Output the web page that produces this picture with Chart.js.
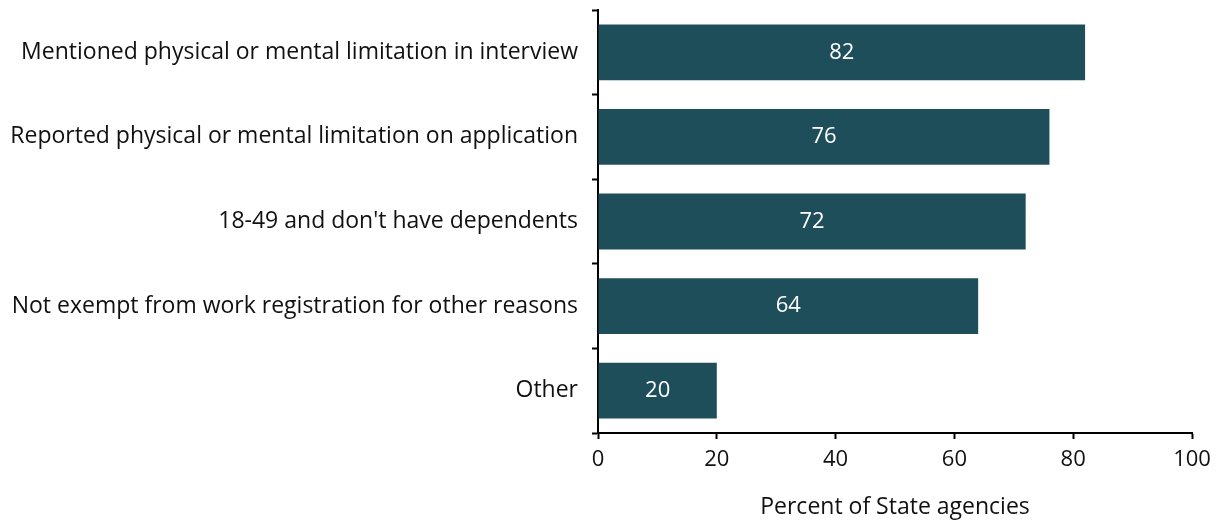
<!DOCTYPE html>
<html>
<head>
<meta charset="utf-8">
<script src="https://cdn.jsdelivr.net/npm/chart.js@4/dist/chart.umd.min.js"></script>
<style>
  html, body { margin: 0; padding: 0; background: #fff; }
  #wrap { width: 1220px; height: 521px; }
</style>
</head>
<body>
<div id="wrap"><canvas id="chart" width="1220" height="521"></canvas></div>
<script>
const categories = [
  'Mentioned physical or mental limitation in interview',
  'Reported physical or mental limitation on application',
  "18-49 and don't have dependents",
  'Not exempt from work registration for other reasons',
  'Other'
];
const percentValues = [82, 76, 72, 64, 20];
const xTicks = [0, 20, 40, 60, 80, 100];
const xTitle = 'Percent of State agencies';

const FONT = "'Open Sans', sans-serif";
const BAR_COLOR = '#1F4E5B';

// white value labels in the middle of each bar
const barLabels = {
  id: 'barLabels',
  afterDatasetsDraw(chart) {
    const ctx = chart.ctx;
    const meta = chart.getDatasetMeta(0);
    ctx.save();
    ctx.fillStyle = '#ffffff';
    ctx.font = '22px ' + FONT;
    ctx.textAlign = 'center';
    ctx.textBaseline = 'middle';
    meta.data.forEach((bar, i) => {
      const cx = (bar.x + bar.base) / 2;
      ctx.fillText(String(percentValues[i]), cx, bar.y);
    });
    ctx.restore();
  }
};

new Chart(document.getElementById('chart'), {
  type: 'bar',
  data: {
    labels: categories,
    datasets: [{
      data: percentValues,
      backgroundColor: BAR_COLOR,
      borderWidth: 0,
      barPercentage: 0.66,
      categoryPercentage: 1
    }]
  },
  options: {
    indexAxis: 'y',
    responsive: false,
    animation: false,
    layout: { padding: { top: 10, right: 28, left: 0, bottom: 0 } },
    plugins: {
      legend: { display: false },
      tooltip: { enabled: false }
    },
    scales: {
      x: {
        min: 0,
        max: 100,
        afterBuildTicks(scale) { scale.ticks = xTicks.map(v => ({ value: v })); },
        afterFit(scale) { scale.height = 88; },
        grid: { drawOnChartArea: false, color: '#000', tickLength: 6, tickWidth: 2 },
        border: { color: '#000', width: 2 },
        ticks: { color: '#111', font: { family: FONT, size: 22 }, padding: 8 },
        title: {
          display: true,
          text: xTitle,
          color: '#111',
          font: { family: FONT, size: 23 },
          padding: { top: 6, bottom: 0 }
        }
      },
      y: {
        afterFit(scale) {
          scale.width = 598;
          scale.paddingTop = 0;
          scale.paddingBottom = 0;
        },
        grid: { drawOnChartArea: false, offset: true, color: '#000', tickLength: 6, tickWidth: 2 },
        border: { color: '#000', width: 2 },
        ticks: { color: '#111', font: { family: FONT, size: 23 }, padding: 14 }
      }
    }
  },
  plugins: [barLabels]
});
</script>
</body>
</html>
